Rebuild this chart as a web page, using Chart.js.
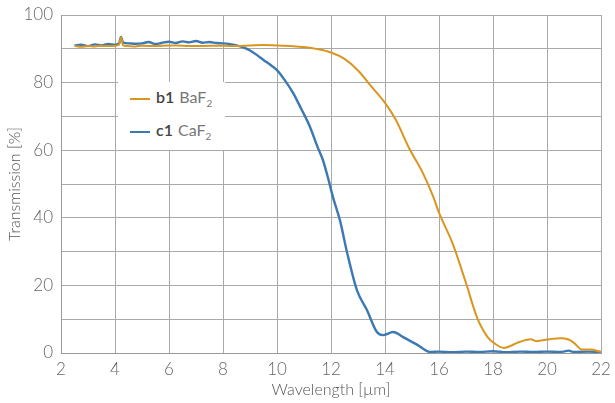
<!DOCTYPE html>
<html>
<head>
<meta charset="utf-8">
<script src="https://cdn.jsdelivr.net/npm/chart.js@4"></script>
<style>
  html, body { margin: 0; padding: 0; background: #fff; }
  #wrap { position: relative; width: 615px; height: 403px; }
  /* legend box sits over the grid, like in the original */
  #legend {
    position: absolute; left: 118px; top: 82px; width: 107px; height: 68px;
    background: #fff; font-family: Lato, "DejaVu Sans", sans-serif; font-size: 16px; color: #777;
  }
  .item { position: absolute; left: 12px; height: 20px; line-height: 20px; white-space: nowrap; }
  .item .sw { display: inline-block; width: 20px; height: 2px; vertical-align: middle; margin-right: 6px; }
  .item b { color: #444; font-weight: 600; margin-right: 5px; }
  .item sub { font-size: 10px; }
</style>
</head>
<body>
<div id="wrap">
  <canvas id="chart" width="615" height="403"></canvas>
  <div id="legend">
    <div class="item" style="top:5px"><span class="sw" style="background:#D9961F"></span><b>b1</b>BaF<sub>2</sub></div>
    <div class="item" style="top:38px"><span class="sw" style="background:#3C79B3"></span><b>c1</b>CaF<sub>2</sub></div>
  </div>
</div>
<script>
// BaF2 (b1)
const bafX = [2.5, 2.75, 3.0, 3.25, 3.5, 3.75, 4.0, 4.15, 4.22, 4.3, 4.45, 4.75, 5.0, 5.5, 6.0, 6.5, 7.0, 7.5, 8.0, 8.5, 9.0, 9.5, 10.0, 10.5, 11.0, 11.5, 12.0, 12.5, 13.0, 13.5, 14.0, 14.4, 14.9, 15.4, 15.8, 16.0, 16.5, 17.0, 17.4, 17.8, 18.1, 18.4, 18.9, 19.2, 19.4, 19.6, 20.1, 20.5, 20.8, 21.0, 21.3, 21.6, 22.0];
const bafY = [90.9, 90.6, 90.8, 90.7, 90.9, 90.8, 90.9, 91.2, 93.4, 91.0, 90.8, 90.7, 90.9, 90.8, 91.0, 90.9, 90.8, 90.9, 90.9, 90.8, 91.0, 91.1, 91.0, 90.8, 90.5, 89.9, 88.9, 87.0, 83.6, 78.8, 74.0, 69.0, 60.5, 53.3, 46.0, 41.5, 32.5, 20.7, 10.7, 4.7, 2.6, 1.5, 3.0, 3.8, 4.1, 3.5, 4.1, 4.4, 4.0, 3.0, 1.0, 1.0, 0.3];

// CaF2 (c1)
const cafX = [2.5, 2.75, 3.0, 3.25, 3.5, 3.75, 4.0, 4.15, 4.22, 4.3, 4.5, 4.75, 5.0, 5.25, 5.5, 5.75, 6.0, 6.25, 6.5, 6.75, 7.0, 7.25, 7.5, 7.75, 8.0, 8.25, 8.5, 8.75, 9.0, 9.25, 9.5, 9.75, 10.0, 10.3, 10.6, 10.9, 11.2, 11.5, 11.7, 11.9, 12.07, 12.33, 12.6, 12.96, 13.33, 13.7, 13.93, 14.3, 14.67, 15.2, 15.67, 16.0, 16.5, 17.0, 17.5, 18.0, 18.5, 19.0, 19.5, 20.0, 20.5, 20.8, 21.0, 21.5, 22.0];
const cafY = [91.0, 91.2, 90.8, 91.3, 91.0, 91.4, 91.2, 91.6, 93.5, 91.8, 91.6, 91.5, 91.6, 92.0, 91.4, 91.8, 92.1, 91.7, 92.2, 91.9, 92.3, 91.8, 92.0, 91.7, 91.6, 91.4, 91.0, 90.4, 89.5, 88.2, 86.7, 85.3, 83.7, 80.6, 76.9, 72.2, 67.3, 61.0, 57.1, 51.5, 46.2, 39.3, 29.6, 18.6, 12.7, 6.2, 5.3, 6.2, 4.7, 2.4, 0.3, 0.4, 0.2, 0.4, 0.3, 0.5, 0.2, 0.4, 0.3, 0.4, 0.3, 0.7, 0.3, 0.4, 0.3];

const xTicks = [2, 4, 6, 8, 10, 12, 14, 16, 18, 20, 22];
const yTicks = [0, 20, 40, 60, 80, 100];

const toPts = (xs, ys) => xs.map((x, i) => ({ x: x, y: ys[i] }));
const font = { family: 'Lato, "DejaVu Sans", sans-serif', size: 17, weight: 300 };

new Chart(document.getElementById('chart'), {
    type: 'line',
    data: {
        datasets: [
            { label: 'b1 BaF2', data: toPts(bafX, bafY), borderColor: '#D9961F', borderWidth: 2, pointRadius: 0, cubicInterpolationMode: 'monotone' },
            { label: 'c1 CaF2', data: toPts(cafX, cafY), borderColor: '#3C79B3', borderWidth: 2.4, pointRadius: 0, cubicInterpolationMode: 'monotone' }
        ]
    },
    options: {
        responsive: false,
        animation: false,
        layout: { padding: { left: 0, right: 14, top: 15, bottom: 0 } },
        plugins: { legend: { display: false }, tooltip: { enabled: false } },
        scales: {
            x: {
                type: 'linear', min: 2, max: 22,
                afterBuildTicks: s => { s.ticks = xTicks.map(v => ({ value: v })); },
                // fixed axis size so the plot area lands where the original's does
                afterFit: s => { s.height = 50; s.paddingLeft = 0; s.paddingRight = 0; },
                grid: { color: '#aaa', lineWidth: 1, drawTicks: false },
                border: { color: '#999' },
                ticks: { color: '#666', font: font, padding: 6, maxRotation: 0 },
                title: { display: true, text: 'Wavelength [µm]', color: '#555', font: { family: font.family, size: 16, weight: 300 }, padding: { top: 2 } }
            },
            y: {
                min: 0, max: 100,
                // grid every 10, labels every 20
                ticks: { stepSize: 10, color: '#666', font: font, padding: 8,
                    callback: v => yTicks.includes(v) ? v : '' },
                afterFit: s => { s.width = 61; s.paddingTop = 0; s.paddingBottom = 0; },
                grid: { color: '#aaa', lineWidth: 1, drawTicks: false },
                border: { color: '#999' },
                title: { display: true, text: 'Transmission [%]', color: '#555', font: { family: font.family, size: 16, weight: 300 }, padding: { top: 5, bottom: 0 } }
            }
        }
    }
});
</script>
</body>
</html>
